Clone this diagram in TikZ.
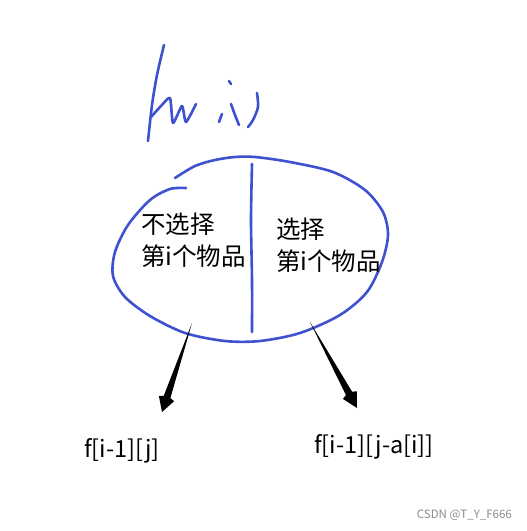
\documentclass[tikz,border=0pt]{standalone}
\usepackage{fontspec}
\setmainfont{Noto Sans CJK SC}
\usetikzlibrary{calc}
\definecolor{penblue}{RGB}{62,82,208}
\tikzset{
  pen/.style={draw=penblue,line width=2.6pt,line cap=round,line join=round},
  choice/.style={align=left,anchor=north west,inner sep=0pt,font=\fontsize{24.5}{32}\selectfont},
  result/.style={inner sep=0pt,font=\fontsize{23.5}{26}\selectfont}
}
% tapered black arrow from #1 to #2
\newcommand\branchto[2]{\fill (#1) -- ($(#1)!0.83!(#2)!3.5pt!-90:(#2)$) -- ($(#1)!0.85!(#2)!8pt!-90:(#2)$) -- (#2)
  -- ($(#1)!0.85!(#2)!8pt!90:(#2)$) -- ($(#1)!0.83!(#2)!3.5pt!90:(#2)$) -- cycle;}
\begin{document}
\begin{tikzpicture}[x=1pt,y=-1pt]
                \useasboundingbox[fill=white] (0,0) rectangle (527,531);
                % handwritten f(w,i)
                \draw[pen] plot[smooth] coordinates {(164,45) (157,75) (152,105) (148,141)};
                \draw[pen] plot[smooth,tension=.35] coordinates {(151,117) (161,106) (170,98) (173,123) (182,106) (186,122) (196,104)};
                \draw[pen] (222,114) -- (219,122);
                \draw[pen] (229,81) -- (231,84);
                \draw[pen] plot[smooth] coordinates {(231,104) (235,115) (239,125)};
                \draw[pen] plot[smooth] coordinates {(257,93) (258,107) (253,120) (248,127)};
                % the loop
                \draw[pen] plot[smooth] coordinates {(175,178) (195,166) (215,160) (235,157) (255,157) (290,162) (333,172) (365,190) (383,212) (388,235) (382,262) (367,292) (340,315) (300,333) (260,341) (225,341) (185,333) (150,316) (125,297) (113,276) (115,252) (128,225) (150,200) (170,189) (186,188)};
                \draw[pen] plot[smooth] coordinates {(252,164) (251,220) (252,280) (252,332)};
                % texts
                \node[choice] (skip) at (141,213) {不选择\\第i个物品};
                \node[choice] (take) at (276,218) {选择\\第i个物品};
                \node[result] (old) at (122,451) {f[i-1][j]};
                \node[result] (new) at (374,447) {f[i-1][j-a[i]]};
                \coordinate (skipfoot) at (192,323);
                \coordinate (skiptip) at (162,412);
                \coordinate (takefoot) at (310,322);
                \coordinate (taketip) at (357,408);
                \branchto{skipfoot}{skiptip}
                \branchto{takefoot}{taketip}
                \node[text=black!45,font=\fontsize{11.5}{12}\selectfont,anchor=east,inner sep=0pt] (mark) at (512,515) {CSDN @T\_Y\_F666};
            \end{tikzpicture}
\end{document}
